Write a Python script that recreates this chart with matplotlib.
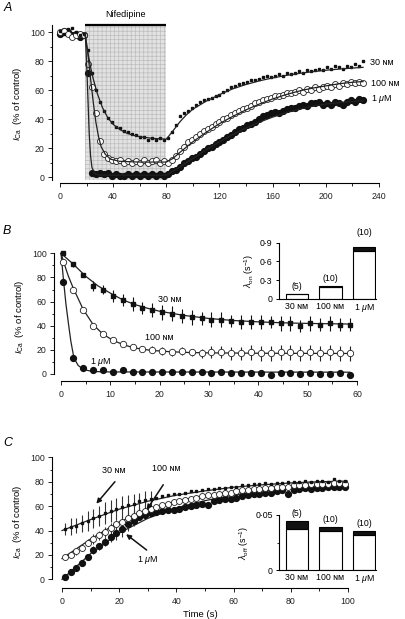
import numpy as np
import matplotlib
matplotlib.use('Agg')
import matplotlib.pyplot as plt
from matplotlib.ticker import MultipleLocator, FixedLocator

plt.rcParams['font.family'] = ['Liberation Sans', 'DejaVu Sans']
plt.rcParams['mathtext.fontset'] = 'custom'
plt.rcParams['mathtext.rm'] = 'Liberation Sans'
plt.rcParams['mathtext.it'] = 'Liberation Sans:italic'
plt.rcParams['hatch.linewidth'] = 0.5

# ---- labels ----
conc = ['30 ɴᴍ', '100 ɴᴍ', r'1 $\mu$M']
n_cells = ['(5)', '(10)', '(10)']

# ---- panel A: time course, sampled every 3 s ----
nif_start, nif_end = 18.5, 79.5
a_t = np.arange(0, 229, 3)
a_30 = [101, 99, 102, 103, 100, 98, 99,
        88, 72, 60, 52, 46, 41, 38, 35, 34, 32, 31, 30, 29, 28, 28, 26, 27, 26, 27, 26,
        27, 31, 36, 42, 44, 46, 48, 50, 52, 53, 54, 55, 56, 57, 59, 60, 62, 63, 64, 65,
        66, 67, 67, 68, 69, 70, 69, 70, 71, 70, 72, 71, 72, 73, 72, 74, 73, 74, 75, 74,
        76, 75, 77, 76, 75, 77, 76, 78, 77, 80]
a_100 = [100, 101, 99, 97, 98, 99, 98,
         78, 62, 44, 25, 16, 13, 12, 11, 12, 10, 11, 10, 11, 10, 12, 10, 11, 12, 10, 11,
         10, 12, 15, 18, 21, 24, 26, 28, 30, 32, 33, 35, 37, 38, 40, 41, 43, 44, 46, 47,
         48, 49, 51, 52, 53, 54, 55, 56, 56, 57, 58, 58, 59, 60, 59, 61, 60, 62, 61, 62,
         63, 62, 64, 63, 65, 64, 66, 65, 66, 65]
a_1u = [99, 101, 100, 98, 99, 97, 98,
        72, 3, 2, 3, 2, 3, 1, 2, 1, 1, 2, 1, 2, 1, 2, 1, 2, 1, 2, 1,
        2, 4, 5, 7, 10, 11, 13, 14, 16, 18, 20, 21, 23, 24, 26, 28, 29, 31, 33, 34,
        36, 37, 38, 40, 42, 43, 44, 45, 44, 46, 47, 48, 48, 49, 50, 49, 51, 51, 52, 50,
        51, 50, 52, 51, 50, 52, 53, 52, 54, 53]

a_fit30_t = [19, 21, 23, 25, 28, 32, 36, 40, 45, 50, 55, 60, 70, 80,
             85, 90, 95, 100, 110, 120, 130, 140, 150, 160, 170, 180, 190, 200, 210, 220, 228]
a_fit30 = [97, 86, 76, 68, 58, 48, 41, 36.5, 33, 30.5, 29, 28, 26.8, 26.3,
           32, 38, 43, 47, 52.5, 57, 61, 64, 66.5, 68.5, 70.2, 71.6, 72.8, 73.8, 74.6, 75.3, 75.8]
a_fit100_t = [19, 21, 23, 25, 27, 29, 31, 34, 38, 45, 60, 80,
              85, 90, 100, 110, 120, 130, 140, 150, 160, 170, 180, 190, 200, 210, 220, 228]
a_fit100 = [99, 85, 68, 52, 38, 28, 21, 16, 12.5, 11, 10.5, 10.5,
            13, 17, 24.5, 31, 37, 42, 46.5, 50.5, 54, 57, 59.5, 61.5, 63, 64.5, 65.5, 66]
a_fit1u_t = [19, 20, 21, 22, 23, 24, 26, 30, 80,
             90, 100, 110, 120, 130, 140, 150, 160, 170, 180, 190, 200, 210, 220, 228]
a_fit1u = [99, 80, 55, 30, 15, 7, 2.5, 1.5, 1.5,
           7, 13, 19, 24.5, 29.5, 34, 38, 41.5, 44.5, 47, 49, 50.5, 51.5, 52.3, 52.8]

# ---- panel B: onset, every 2 s ----
b_t = np.arange(0.5, 59, 2)
b_30 = [100, 91, 82, 73, 70, 65, 61, 58, 55, 53, 51, 50, 48, 47, 46,
        45, 45, 44, 43, 43, 43, 43, 42, 42, 40, 42, 41, 42, 41, 41]
b_30_err = [1, 2, 2, 4, 4, 5, 5, 6, 5, 6, 6, 6, 6, 6, 5,
            6, 6, 5, 6, 6, 6, 5, 6, 6, 5, 6, 5, 6, 5, 5]
b_100 = [93, 70, 53, 40, 33, 28, 25, 22, 21, 20, 19, 18, 19, 18, 17,
         18, 18, 17, 17, 18, 17, 17, 18, 18, 17, 18, 17, 18, 17, 17]
b_100_err = [1, 2, 2, 2, 2, 2, 2, 2, 2, 3, 3, 3, 3, 3, 4,
             5, 5, 5, 5, 6, 6, 6, 6, 6, 6, 6, 6, 6, 6, 6]
b_1u = [76, 13, 5, 3, 3, 2, 3, 2, 2, 1.5, 1.5, 1.5, 2, 2, 2,
        1, 1.5, 1, 1, 1, 1, -1, 0.5, 1, 0, 0.5, 0, 0, 1, -1]

b_fit30_t = [0, 2.5, 5, 7.5, 10, 12.5, 15, 17.5, 20, 25, 30, 35, 40, 45, 50, 58.5]
b_fit30 = [100, 91, 81, 73, 67, 61.5, 57.5, 54.5, 52, 48.5, 46, 44.3, 43.2, 42.4, 41.9, 41.4]
b_fit100_t = [0, 1, 1.5, 2.5, 4.5, 6.5, 8.5, 10.5, 12.5, 14.5, 16.5, 18.5, 22, 26, 30, 40, 58.5]
b_fit100 = [100, 87, 81, 71, 53.5, 41, 33, 28, 24.5, 22, 20.5, 19.5, 18.5, 17.8, 17.5, 17.2, 17]
b_fit1u_t = [0, 0.5, 1, 1.5, 2, 2.5, 3, 3.5, 4.5, 5.5, 7, 10, 58.5]
b_fit1u = [100, 78, 58, 42, 27, 16, 10.5, 7, 4, 2.8, 2, 1.7, 1.5]

# ---- panel C: recovery, every 2 s ----
c_t = np.arange(1, 100, 2)
c_30 = [41, 43, 44, 46, 48, 50, 52, 54, 56, 58, 59, 61, 62, 64, 65, 66, 67, 68, 69, 70,
        70, 71, 72, 72, 73, 74, 74, 75, 75, 76, 76, 77, 77, 78, 78, 79, 78, 79, 79, 80,
        80, 80, 81, 80, 81, 81, 80, 82, 81, 81]
c_30_err = [5, 7, 6, 7, 8, 8, 8, 9, 9, 9, 9, 8, 8, 7, 7, 6]
c_100 = [18, 20, 23, 26, 30, 33, 36, 39, 42, 45, 47, 50, 52, 54, 56, 58, 59, 61, 62, 63,
         64, 65, 66, 67, 68, 69, 69, 70, 71, 71, 72, 73, 73, 74, 74, 75, 75, 76, 76, 76,
         77, 77, 77, 78, 78, 78, 78, 79, 79, 78]
c_100_err = [2, 2, 3, 3, 3, 4, 4, 4, 4, 4, 5, 5, 5, 5, 5]
c_1u = [2, 6, 9, 13, 18, 24, 27, 31, 35, 38, 41, 45, 48, 51, 53, 54, 55, 56, 57, 57,
        58, 59, 60, 61, 62, 61, 64, 65, 66, 66, 67, 68, 69, 70, 70, 71, 71, 72, 73, 70,
        73, 74, 75, 74, 75, 75, 76, 76, 76, 76]
c_1u_err = [1, 1, 2, 2, 2, 3, 3, 4, 4, 6, 6, 5, 4]

c_fit_t = [0, 10, 20, 30, 40, 50, 60, 70, 80, 90, 100]
c_fit30 = [40, 49, 57.5, 64, 69, 72.5, 75.5, 77.5, 79, 80, 80.5]
c_fit100 = [17, 33, 47, 57, 64, 68.5, 71.5, 74, 75.5, 77, 78]
c_fit1u = [0, 21, 38, 50, 58.5, 64.5, 69, 72.5, 74.5, 76, 77]

# ---- insets: rate constants (mean, s.e.m.) ----
on_mean = [0.075, 0.197, 0.767]
on_sem = [0.006, 0.008, 0.069]
off_mean = [0.0375, 0.0355, 0.032]
off_sem = [0.007, 0.0035, 0.0035]

W, H = 405, 619


def box(x0, x1, ytop, ybot):
    return [x0 / W, 1 - ybot / H, (x1 - x0) / W, (ybot - ytop) / H]


def style(ax, xb, yb, xmaj, xmin, ymaj, ymin):
    ax.spines['top'].set_visible(False)
    ax.spines['right'].set_visible(False)
    ax.spines['left'].set_bounds(*yb)
    ax.spines['bottom'].set_bounds(*xb)
    for s in ['left', 'bottom']:
        ax.spines[s].set_linewidth(0.8)
    ax.xaxis.set_major_locator(MultipleLocator(xmaj))
    ax.xaxis.set_minor_locator(MultipleLocator(xmin))
    ax.yaxis.set_major_locator(MultipleLocator(ymaj))
    ax.yaxis.set_minor_locator(MultipleLocator(ymin))
    ax.tick_params(which='major', length=3, width=0.7, labelsize=6.3, colors='#222222')
    ax.tick_params(which='minor', length=1.8, width=0.6)
    ax.tick_params(axis='x', which='major', pad=3.5)
    ax.tick_params(axis='y', which='major', pad=2.2)
    ax.set_ylabel(r'$I_{\rm Ca}$  (% of control)', fontsize=6.8, labelpad=4)


def inset(ax, mean, sem, ymax, yticks, yticklabels, ylabel, nlab_y):
    x = np.arange(len(mean))
    ax.bar(x, mean, width=0.66, color='white', edgecolor='black', linewidth=0.8)
    ax.bar(x, sem, bottom=mean, width=0.66, color='#111111', edgecolor='black', linewidth=0.8)
    ax.set_xlim(-0.537, 2.36)
    ax.set_ylim(0, ymax)
    ax.spines['top'].set_visible(False)
    ax.spines['right'].set_visible(False)
    ax.spines['left'].set_linewidth(0.8)
    ax.spines['bottom'].set_linewidth(0.8)
    ax.set_xticks(x)
    ax.set_xticklabels(conc)
    ax.yaxis.set_major_locator(FixedLocator(yticks))
    ax.set_yticklabels(yticklabels)
    ax.tick_params(axis='x', length=0, pad=2, labelsize=6.3)
    ax.tick_params(axis='y', length=2.5, width=0.7, pad=2, labelsize=6.3)
    ax.set_ylabel(ylabel, fontsize=6.5, labelpad=3)
    ax.patch.set_alpha(0)
    for i in range(len(mean)):
        ax.text(x[i], nlab_y[i], n_cells[i], ha='center', va='center', fontsize=6.3, clip_on=False)


fig = plt.figure(figsize=(W / 100, H / 100), dpi=100)

# ---------------- A ----------------
axA = fig.add_axes(box(52, 379, 25, 183.1))
axA.set_xlim(-6, 240)
axA.set_ylim(-4, 105)
axA.fill_between([nif_start, nif_end], -2, 104, facecolor='#e2e2e2', edgecolor='#bdbdbd',
                 hatch='++++', linewidth=0, zorder=0)
axA.plot([nif_start, nif_end], [105, 105], color='black', lw=1.6, clip_on=False,
         solid_capstyle='butt')
axA.text((nif_start + nif_end) / 2, 112, 'Nifedipine', ha='center', va='center', fontsize=6.5)
axA.plot(a_t, a_1u, 'o', ms=4.2, color='#111111', mec='#111111', clip_on=False, zorder=3)
axA.plot(a_t, a_100, 'o', ms=4.3, mfc='white', mec='#222222', mew=0.6, clip_on=False, zorder=4)
axA.plot(a_t, a_30, 's', ms=2.0, color='#111111', clip_on=False, zorder=5)
axA.plot(a_fit30_t, a_fit30, color='#222222', lw=0.9, zorder=6)
axA.plot(a_fit100_t, a_fit100, color='#222222', lw=0.9, zorder=6)
axA.plot(a_fit1u_t, a_fit1u, color='#222222', lw=0.9, zorder=6)
axA.text(233, 79, conc[0], fontsize=6.5, va='center', clip_on=False)
axA.text(234, 65, conc[1], fontsize=6.5, va='center', clip_on=False)
axA.text(234, 54, conc[2], fontsize=6.5, va='center', clip_on=False)
style(axA, (0, 240), (-2, 105), 40, 20, 20, 10)

# ---------------- B ----------------
axB = fig.add_axes(box(54, 357, 252.1, 381))
axB.set_xlim(-1.42, 60)
axB.set_ylim(-5.8, 101)
axB.plot(b_fit30_t, b_fit30, color='#222222', lw=0.9, zorder=2)
axB.plot(b_fit100_t, b_fit100, color='#222222', lw=0.9, zorder=2)
axB.plot(b_fit1u_t, b_fit1u, color='#222222', lw=0.9, zorder=2)
axB.errorbar(b_t, b_30, yerr=b_30_err, fmt='s', ms=2.2, color='#111111', elinewidth=0.8,
             capsize=0, clip_on=False, zorder=3)
axB.errorbar(b_t, b_100, yerr=b_100_err, fmt='o', ms=4.6, mfc='white', mec='#222222', mew=0.6,
             ecolor='#222222', elinewidth=0.8, capsize=0, clip_on=False, zorder=3)
axB.plot(b_t, b_1u, 'o', ms=4.2, color='#111111', clip_on=False, zorder=3)
axB.text(22, 62, conc[0], ha='center', va='center', fontsize=6.5)
axB.text(20, 30.5, conc[1], ha='center', va='center', fontsize=6.5)
axB.text(8, 10, conc[2], ha='center', va='center', fontsize=6.5)
style(axB, (0, 60), (0, 100), 10, 5, 20, 10)

axBi = fig.add_axes(box(279, 376, 242.7, 299))
inset(axBi, on_mean, on_sem, 0.9, [0, 0.3, 0.6, 0.9], ['0', '0·3', '0·6', '0·9'],
      r'$\lambda_{\rm on}$ (s$^{-1}$)', [0.197, 0.32, 1.07])

# ---------------- C ----------------
axC = fig.add_axes(box(52, 348, 456.1, 588))
axC.set_xlim(-3.5, 100)
axC.set_ylim(-7.1, 101)
axC.plot(c_fit_t, c_fit30, color='#222222', lw=0.9, zorder=2)
axC.plot(c_fit_t, c_fit100, color='#222222', lw=0.9, zorder=2)
axC.plot(c_fit_t, c_fit1u, color='#222222', lw=0.9, zorder=2)
axC.errorbar(c_t[:len(c_30_err)], c_30[:len(c_30_err)], yerr=c_30_err, fmt='none',
             ecolor='#333333', elinewidth=0.8, capsize=0, zorder=2)
axC.errorbar(c_t[:len(c_100_err)], c_100[:len(c_100_err)], yerr=c_100_err, fmt='none',
             ecolor='#333333', elinewidth=0.8, capsize=0, zorder=2)
axC.errorbar(c_t[:len(c_1u_err)], c_1u[:len(c_1u_err)], yerr=c_1u_err, fmt='none',
             ecolor='#333333', elinewidth=0.8, capsize=0, zorder=2)
axC.plot(c_t, c_1u, 'o', ms=4.2, color='#111111', clip_on=False, zorder=3)
axC.plot(c_t, c_100, 'o', ms=4.3, mfc='white', mec='#222222', mew=0.6, clip_on=False, zorder=3)
axC.plot(c_t, c_30, 's', ms=2.0, color='#111111', clip_on=False, zorder=4)
arrow = dict(arrowstyle='-|>', color='#111111', lw=1.1, mutation_scale=7, shrinkA=0, shrinkB=0)
axC.annotate('', xy=(12, 62), xytext=(18.5, 80), arrowprops=arrow, zorder=5)
axC.annotate('', xy=(29.6, 57), xytext=(35.4, 77.5), arrowprops=arrow, zorder=5)
axC.annotate('', xy=(22.4, 37), xytext=(29.6, 24), arrowprops=arrow, zorder=5)
axC.text(18, 89, conc[0], ha='center', va='center', fontsize=6.5)
axC.text(36.3, 91, conc[1], ha='center', va='center', fontsize=6.5)
axC.text(30, 16, conc[2], ha='center', va='center', fontsize=6.5)
style(axC, (0, 100), (0, 100), 20, 10, 20, 10)
axC.set_xlabel('Time (s)', fontsize=6.8, labelpad=3)

axCi = fig.add_axes(box(279, 376, 515, 570))
inset(axCi, off_mean, off_sem, 0.05, [0, 0.05], ['0', '0·05'],
      r'$\lambda_{\rm off}$ (s$^{-1}$)', [0.0515, 0.0461, 0.0425])
axCi.yaxis.set_minor_locator(FixedLocator([0.025]))
axCi.tick_params(axis='y', which='minor', length=1.8, width=0.6)

fig.text(4 / W, 1 - 8 / H, 'A', fontsize=9, style='italic', va='center')
fig.text(3 / W, 1 - 231 / H, 'B', fontsize=9, style='italic', va='center')
fig.text(3 / W, 1 - 443 / H, 'C', fontsize=9, style='italic', va='center')

fig.savefig('out.png', dpi=100)
